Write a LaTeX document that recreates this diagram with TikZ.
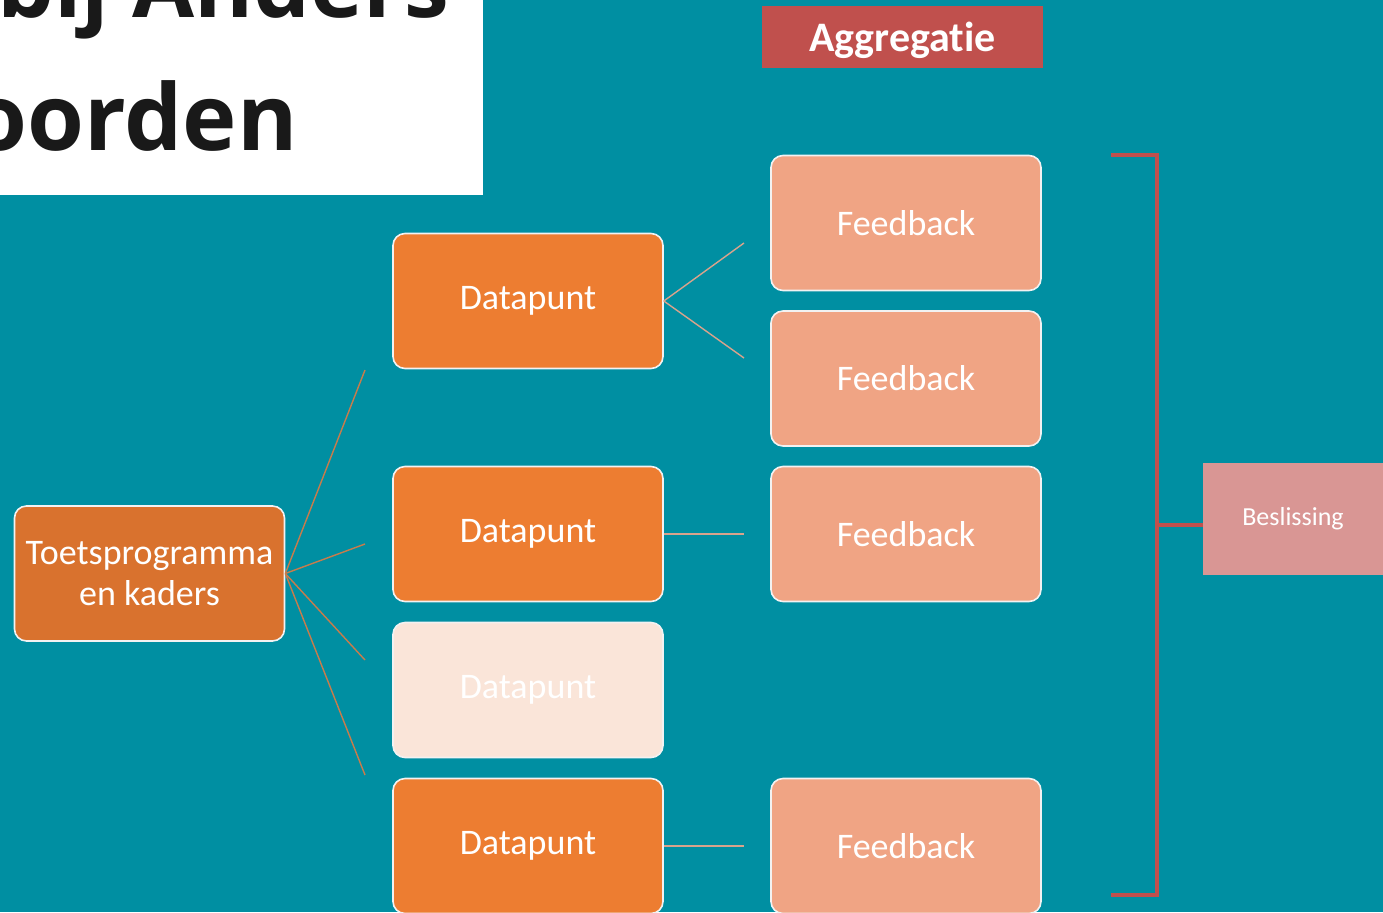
\documentclass[tikz,border=0pt]{standalone}
\usepackage{fontspec}
\setmainfont[Ligatures=NoCommon]{Carlito}
\newfontfamily\titlefont{Open Sans}
\usepackage{tikz}

\definecolor{slideteal}{HTML}{008FA2}
\definecolor{darkorange}{HTML}{D9722E}
\definecolor{dataorange}{HTML}{ED7D31}
\definecolor{datapale}{HTML}{FAE5D9}
\definecolor{feedsalmon}{HTML}{F0A484}
\definecolor{aggred}{HTML}{C0504D}
\definecolor{beslpink}{HTML}{D99694}
\definecolor{linebrown}{HTML}{C87C4C}
\definecolor{linesalmon}{HTML}{D9A38C}

\begin{document}
\begin{tikzpicture}[x=0.5pt,y=-0.5pt,
  box/.style={draw=white!95!black,line width=0.8pt,rounded corners=6pt,
    minimum width=135pt,minimum height=67.5pt,inner sep=0pt,text=white,
    font=\fontsize{18}{20.5}\selectfont,align=center},
  datapunt/.style={box,fill=dataorange},
  feedback/.style={box,fill=feedsalmon},
  tak/.style={linebrown,line width=0.7pt},
  fbtak/.style={linesalmon,line width=0.7pt},
  haak/.style={aggred,line width=1.7pt}]
\useasboundingbox (0,0) rectangle (1383,912);
\clip (0,0) rectangle (1383,912);
\fill[slideteal] (0,0) rectangle (1383,912);

% title
\fill[white] (0,0) rectangle (483,195);
\node[anchor=base east,inner sep=0pt,text=black!90,font=\titlefont\bfseries\fontsize{45}{54}\selectfont] (kop1) at (450,17) {bij Anders};
\node[anchor=base east,inner sep=0pt,text=black!90,font=\titlefont\bfseries\fontsize{46}{54}\selectfont] (kop2) at (298,150) {oorden};

\node[fill=aggred,minimum width=140.5pt,minimum height=31pt,inner sep=0pt,text=white,
  text depth=0pt,font=\bfseries\fontsize{21}{24}\selectfont] (aggr) at (902.5,37) {Aggregatie};

\node[box,fill=darkorange] (toets) at (149.5,573.5) {Toetsprogramma\\en kaders};

\node[datapunt] (dp1) at (528,301) {Datapunt};
\node[datapunt] (dp2) at (528,534) {Datapunt};
\node[box,fill=datapale] (dp3) at (528,690) {Datapunt};
\node[datapunt] (dp4) at (528,846) {Datapunt};

\node[feedback] (fb1) at (906,223) {Feedback};
\node[feedback] (fb2) at (906,378.5) {Feedback};
\node[feedback] (fb3) at (906,534) {Feedback};
\node[feedback] (fb4) at (906,846) {Feedback};

\node[fill=beslpink,minimum width=90pt,minimum height=56pt,inner sep=0pt,text=white,
  font=\fontsize{13}{15}\selectfont] (besl) at (1293,519) {Beslissing};

% loose ends of the branches
\coordinate (t1) at (365,370);
\coordinate (t2) at (365,544);
\coordinate (t3) at (365,660);
\coordinate (t4) at (365,775);
\coordinate (f1) at (744,243);
\coordinate (f2) at (744,358);
\coordinate (f3) at (744,534);
\coordinate (f4) at (744,846);

\draw[tak] (toets.east) -- (t1);
\draw[tak] (toets.east) -- (t2);
\draw[tak] (toets.east) -- (t3);
\draw[tak] (toets.east) -- (t4);

\draw[fbtak] (dp1.east) -- (f1);
\draw[fbtak] (dp1.east) -- (f2);
\draw[fbtak] (dp2.east) -- (f3);
\draw[fbtak] (dp4.east) -- (f4);

% bracket
\coordinate (haakboven) at (1111,155);
\coordinate (haakonder) at (1111,895);
\coordinate (haakmidden) at (1157,525);
\draw[haak] (haakboven) -- ++(46,0) |- (haakonder);
\draw[haak] (haakmidden) -- (besl.west |- haakmidden);
\end{tikzpicture}
\end{document}
